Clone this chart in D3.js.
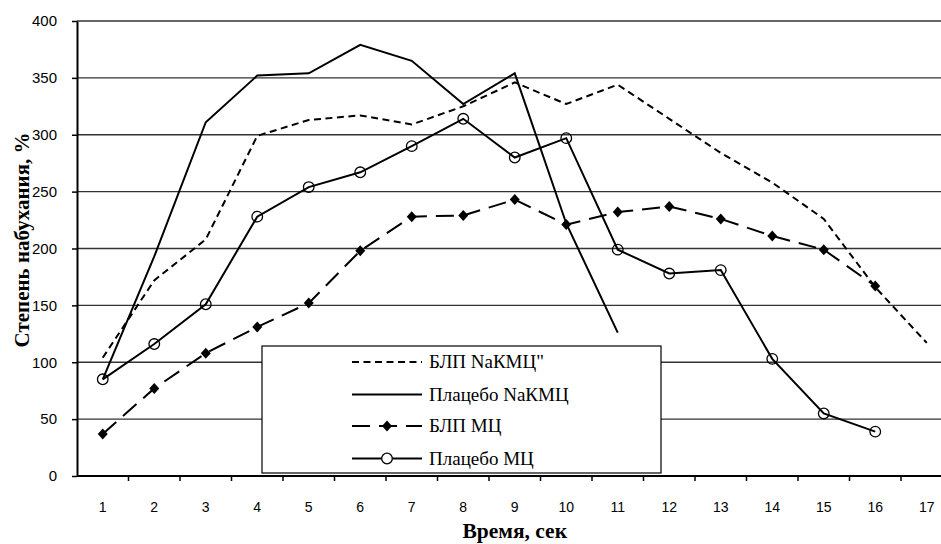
<!DOCTYPE html>
<html>
<head>
<meta charset="utf-8">
<script src="https://cdn.jsdelivr.net/npm/d3@7"></script>
<style>
  html, body { margin: 0; padding: 0; background: #fff; }
  svg { display: block; }
</style>
</head>
<body>
<svg id="chart" width="941" height="544"></svg>
<script>
// Time points, seconds
const categories = [1, 2, 3, 4, 5, 6, 7, 8, 9, 10, 11, 12, 13, 14, 15, 16, 17];
const yTicks = [0, 50, 100, 150, 200, 250, 300, 350, 400];

// Swelling degree, % (null = no measurement)
const blpNaKMC     = [104, 172, 208, 299, 313, 317, 309, 325, 346, 327, 344, 314, 284, 258, 226, 166, 117];
const placeboNaKMC = [85, 193, 311, 352, 354, 379, 365, 327, 354, 222, 126, null, null, null, null, null, null];
const blpMC        = [37, 77, 108, 131, 152, 198, 228, 229, 243, 221, 232, 237, 226, 211, 199, 167, null];
const placeboMC    = [85, 116, 151, 228, 254, 267, 290, 314, 280, 297, 199, 178, 181, 103, 55, 39, null];

const seriesNames = ["БЛП NaКМЦ\"", "Плацебо NaКМЦ", "БЛП МЦ", "Плацебо МЦ"];

const SERIF = "\"Liberation Serif\", \"Times New Roman\", serif";
const SANS = "\"Liberation Sans\", Arial, sans-serif";

const svg = d3.select("#chart");
const plotLeft = 77, plotRight = 952.5, plotTop = 21, plotBottom = 476;

const x = d3.scaleBand().domain(categories).range([plotLeft, plotRight]).padding(0);
const y = d3.scaleLinear().domain([0, 400]).range([plotBottom, plotTop]);
const cx = d => x(d) + x.bandwidth() / 2;

// Horizontal gridlines
svg.append("g")
  .selectAll("line")
  .data(yTicks.filter(t => t > 0))
  .join("line")
  .attr("x1", plotLeft).attr("x2", plotRight)
  .attr("y1", d => y(d)).attr("y2", d => y(d))
  .attr("stroke", "#333").attr("stroke-width", 1.3);

// Y axis
const yAxis = svg.append("g")
  .attr("transform", `translate(${plotLeft},0)`)
  .call(d3.axisLeft(y).tickValues(yTicks).tickSize(5).tickPadding(15).tickSizeOuter(0));
yAxis.select(".domain").attr("stroke", "#000").attr("stroke-width", 2);
yAxis.selectAll(".tick line").attr("stroke", "#000").attr("stroke-width", 1.5);
yAxis.selectAll("text")
  .style("font-family", SANS)
  .style("font-size", "15px").attr("fill", "#000");

// X axis: ticks at category boundaries, labels at centres
const xAxis = svg.append("g").attr("transform", `translate(0,${plotBottom})`);
xAxis.append("line")
  .attr("x1", plotLeft).attr("x2", plotRight)
  .attr("stroke", "#000").attr("stroke-width", 2);
xAxis.selectAll("line.tick")
  .data(categories)
  .join("line").attr("class", "tick")
  .attr("x1", d => x(d) + x.bandwidth()).attr("x2", d => x(d) + x.bandwidth())
  .attr("y1", 0).attr("y2", 5)
  .attr("stroke", "#000").attr("stroke-width", 1.5);
xAxis.selectAll("text")
  .data(categories)
  .join("text")
  .attr("x", d => cx(d)).attr("y", 35.5)
  .attr("text-anchor", "middle")
  .style("font-family", SANS)
  .style("font-size", "14px")
  .text(d => d);

// Axis titles
svg.append("text")
  .attr("transform", "translate(29,240) rotate(-90)")
  .attr("text-anchor", "middle")
  .style("font-family", SERIF)
  .style("font-weight", "bold").style("font-size", "21px")
  .text("Степень набухания, %");
svg.append("text")
  .attr("x", (plotLeft + plotRight) / 2).attr("y", 538)
  .attr("text-anchor", "middle")
  .style("font-family", SERIF)
  .style("font-weight", "bold").style("font-size", "21.5px")
  .text("Время, сек");

const line = d3.line()
  .defined(d => d.v !== null)
  .x(d => cx(d.c)).y(d => y(d.v));
const toPts = arr => categories.map((c, i) => ({ c, v: arr[i] === undefined ? null : arr[i] }));

const styles = [
  { data: blpNaKMC, dash: "7,4.5", marker: null },
  { data: placeboNaKMC, dash: null, marker: null },
  { data: blpMC, dash: "18,9", marker: "diamond" },
  { data: placeboMC, dash: null, marker: "circle" }
];

const plot = svg.append("g");
styles.forEach(s => {
  const pts = toPts(s.data);
  plot.append("path")
    .attr("d", line(pts))
    .attr("fill", "none").attr("stroke", "#000").attr("stroke-width", 2)
    .attr("stroke-dasharray", s.dash);
  const valid = pts.filter(p => p.v !== null);
  if (s.marker === "diamond") {
    plot.selectAll(null).data(valid).join("path")
      .attr("transform", p => `translate(${cx(p.c)},${y(p.v)})`)
      .attr("d", "M0,-5.5L5,0L0,5.5L-5,0Z")
      .attr("fill", "#000");
  } else if (s.marker === "circle") {
    plot.selectAll(null).data(valid).join("circle")
      .attr("cx", p => cx(p.c)).attr("cy", p => y(p.v)).attr("r", 5.3)
      .attr("fill", "none").attr("stroke", "#000").attr("stroke-width", 1.3);
  }
});

// Legend
const lg = svg.append("g");
lg.append("rect")
  .attr("x", 262).attr("y", 346).attr("width", 399).attr("height", 127)
  .attr("fill", "#fff").attr("stroke", "#000").attr("stroke-width", 1.2);
const rowY = [362, 394.5, 426, 458.5];
styles.forEach((s, i) => {
  const g = lg.append("g").attr("transform", `translate(0,${rowY[i]})`);
  g.append("line")
    .attr("x1", 352).attr("x2", 422)
    .attr("stroke", "#000").attr("stroke-width", 2)
    .attr("stroke-dasharray", s.dash);
  if (s.marker === "diamond") {
    g.append("path").attr("transform", "translate(387,0)")
      .attr("d", "M0,-5.5L5,0L0,5.5L-5,0Z").attr("fill", "#000");
  } else if (s.marker === "circle") {
    g.append("circle").attr("cx", 387).attr("cy", 0).attr("r", 5.3)
      .attr("fill", "#fff").attr("stroke", "#000").attr("stroke-width", 1.3);
  }
  g.append("text")
    .attr("x", 429).attr("y", 0).attr("dy", "0.33em")
    .style("font-family", SERIF)
    .style("font-size", "19px")
    .text(seriesNames[i]);
});
</script>
</body>
</html>
